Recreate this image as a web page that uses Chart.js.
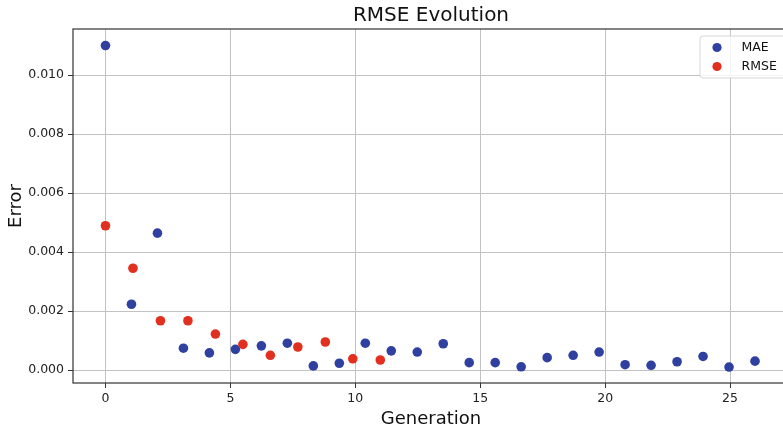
<!DOCTYPE html>
<html>
<head>
<meta charset="utf-8">
<script src="https://cdn.jsdelivr.net/npm/chart.js@4/dist/chart.umd.min.js"></script>
<style>
  html, body { margin: 0; padding: 0; background: #fff; }
  #wrap { width: 783px; height: 429px; }
</style>
</head>
<body>
<div id="wrap"><canvas id="chart" width="783" height="429"></canvas></div>
<script>
const maeGen = [0, 1.04, 2.08, 3.12, 4.16, 5.2, 6.24, 7.28, 8.32, 9.36, 10.4, 11.44, 12.48,
    13.52, 14.56, 15.6, 16.64, 17.68, 18.72, 19.76, 20.8, 21.84, 22.88, 23.92, 24.96, 26];
const maeValues = [0.01100, 0.00223, 0.00464, 0.00074, 0.00058, 0.00070, 0.00082, 0.00091,
    0.00014, 0.00023, 0.00091, 0.00065, 0.00061, 0.00089, 0.00025, 0.00025, 0.00011,
    0.00042, 0.00050, 0.00061, 0.00018, 0.00016, 0.00028, 0.00046, 0.00010, 0.00030];

const rmseGen = [0, 1.1, 2.2, 3.3, 4.4, 5.5, 6.6, 7.7, 8.8, 9.9, 11];
const rmseValues = [0.00489, 0.00345, 0.00167, 0.00167, 0.00122, 0.00087, 0.00050,
    0.00078, 0.00095, 0.00038, 0.00034];

const xTicks = [0, 5, 10, 15, 20, 25];
const yTicks = [0, 0.002, 0.004, 0.006, 0.008, 0.010];

const BLUE = "#2f40a0";
const RED = "#e1301f";
const FONT = "'DejaVu Sans', sans-serif";

/* spines, tick marks, titles and legend, matplotlib style */
const frame = {
    id: "frame",
    afterDatasetsDraw(chart) {
        const ctx = chart.ctx;
        const a = chart.chartArea;
        const xs = chart.scales.x;
        const ys = chart.scales.y;
        ctx.save();

        ctx.strokeStyle = "#333";
        ctx.lineWidth = 1.2;
        ctx.strokeRect(a.left, a.top, a.right - a.left + 10, a.bottom - a.top);

        ctx.lineWidth = 1;
        ctx.beginPath();
        xTicks.forEach(v => {
            const px = Math.round(xs.getPixelForValue(v)) + 0.5;
            ctx.moveTo(px, a.bottom);
            ctx.lineTo(px, a.bottom + 5);
        });
        yTicks.forEach(v => {
            const py = Math.round(ys.getPixelForValue(v)) + 0.5;
            ctx.moveTo(a.left, py);
            ctx.lineTo(a.left - 5, py);
        });
        ctx.stroke();

        ctx.fillStyle = "#111";
        ctx.textAlign = "center";
        ctx.textBaseline = "alphabetic";
        ctx.font = "20px " + FONT;
        ctx.fillText("RMSE Evolution", 431, 21);
        ctx.font = "18px " + FONT;
        ctx.fillText("Generation", 431, 424);

        ctx.save();
        ctx.translate(20.5, (a.top + a.bottom) / 2);
        ctx.rotate(-Math.PI / 2);
        ctx.fillText("Error", 0, 0);
        ctx.restore();

        /* legend */
        const lx = 700, ly = 36, lw = 90, lh = 42, r = 3;
        ctx.beginPath();
        ctx.moveTo(lx + r, ly);
        ctx.lineTo(lx + lw - r, ly);
        ctx.arcTo(lx + lw, ly, lx + lw, ly + r, r);
        ctx.lineTo(lx + lw, ly + lh - r);
        ctx.arcTo(lx + lw, ly + lh, lx + lw - r, ly + lh, r);
        ctx.lineTo(lx + r, ly + lh);
        ctx.arcTo(lx, ly + lh, lx, ly + lh - r, r);
        ctx.lineTo(lx, ly + r);
        ctx.arcTo(lx, ly, lx + r, ly, r);
        ctx.closePath();
        ctx.fillStyle = "rgba(255,255,255,0.8)";
        ctx.fill();
        ctx.strokeStyle = "#d6d6d6";
        ctx.lineWidth = 1;
        ctx.stroke();

        chart.data.datasets.forEach((ds, i) => {
            const my = 47.5 + i * 19;
            ctx.beginPath();
            ctx.arc(717, my, 4.6, 0, Math.PI * 2);
            ctx.fillStyle = ds.backgroundColor;
            ctx.fill();
            ctx.fillStyle = "#111";
            ctx.font = "12.5px " + FONT;
            ctx.textAlign = "left";
            ctx.textBaseline = "middle";
            ctx.fillText(ds.label, 741.5, my + 0.5);
        });

        ctx.restore();
    }
};

new Chart(document.getElementById("chart"), {
    type: "scatter",
    data: {
        datasets: [{
            label: "MAE",
            data: maeGen.map((g, i) => ({ x: g, y: maeValues[i] })),
            backgroundColor: BLUE,
            borderWidth: 0,
            pointRadius: 4.8,
            order: 1
        }, {
            label: "RMSE",
            data: rmseGen.map((g, i) => ({ x: g, y: rmseValues[i] })),
            backgroundColor: RED,
            borderWidth: 0,
            pointRadius: 4.8,
            order: 0
        }]
    },
    options: {
        responsive: false,
        animation: false,
        layout: { autoPadding: false, padding: { top: 29, right: 0, bottom: 0, left: 0 } },
        plugins: {
            legend: { display: false },
            title: { display: false },
            tooltip: { enabled: false }
        },
        scales: {
            x: {
                type: "linear",
                min: -1.3,
                max: 27.12,
                afterBuildTicks: s => { s.ticks = xTicks.map(v => ({ value: v })); },
                afterFit: s => { s.height = 46; },
                grid: { color: "#c2c2c2", lineWidth: 1, drawTicks: false },
                border: { display: false },
                ticks: {
                    padding: 8,
                    color: "#222",
                    font: { family: FONT, size: 12.5 },
                    maxRotation: 0,
                    callback: v => String(v)
                }
            },
            y: {
                type: "linear",
                min: -0.00044,
                max: 0.01156,
                afterBuildTicks: s => { s.ticks = yTicks.map(v => ({ value: v })); },
                afterFit: s => { s.width = 73; },
                grid: { color: "#c2c2c2", lineWidth: 1, drawTicks: false },
                border: { display: false },
                ticks: {
                    padding: 9,
                    color: "#222",
                    font: { family: FONT, size: 12.5 },
                    callback: v => v.toFixed(3)
                }
            }
        }
    },
    plugins: [frame]
});
</script>
</body>
</html>
